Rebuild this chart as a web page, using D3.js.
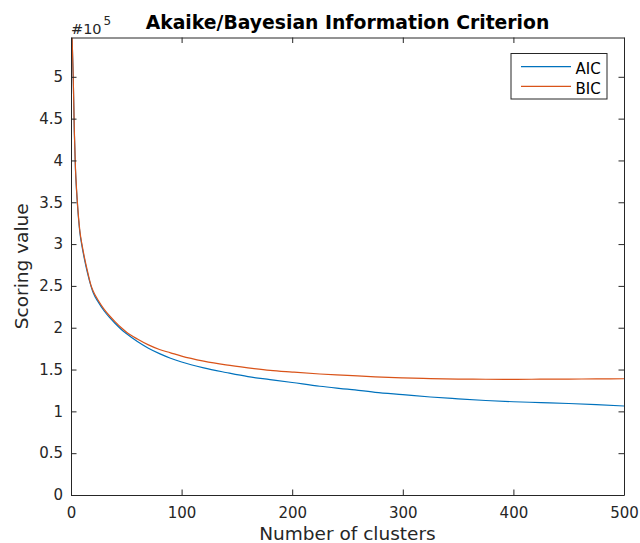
<!DOCTYPE html>
<html>
<head>
<meta charset="utf-8">
<script src="https://cdn.jsdelivr.net/npm/d3@7"></script>
<style>
  html, body { margin: 0; padding: 0; background: #fff; }
  svg { display: block; font-family: "DejaVu Sans", sans-serif; }
</style>
</head>
<body>
<svg id="chart" width="640" height="543"></svg>
<script>
// Number of clusters at which the scores were sampled
const clusters = [1, 2, 3, 4, 5, 6, 8, 10, 12, 15, 18, 20, 25, 30, 35, 40, 45, 50, 60, 70, 80, 90, 100,
  120, 140, 160, 180, 200, 225, 250, 275, 300, 325, 350, 375, 400, 425, 450, 475, 500];
// Scores in units of 1e5
const aic = [5.46, 5.0, 4.34, 3.9, 3.64, 3.44, 3.14, 2.97, 2.83, 2.65, 2.5, 2.42, 2.3, 2.2, 2.12, 2.05, 1.985, 1.93, 1.835, 1.755, 1.69, 1.635, 1.59,
  1.52, 1.465, 1.415, 1.38, 1.345, 1.3, 1.265, 1.228, 1.2, 1.172, 1.15, 1.13, 1.115, 1.105, 1.094, 1.08, 1.064];
const bic = [5.47, 5.01, 4.36, 3.92, 3.66, 3.46, 3.16, 2.99, 2.85, 2.67, 2.51, 2.44, 2.32, 2.22, 2.14, 2.07, 2.005, 1.95, 1.865, 1.795, 1.74, 1.7, 1.66,
  1.6, 1.555, 1.52, 1.49, 1.47, 1.447, 1.43, 1.412, 1.4, 1.392, 1.386, 1.384, 1.382, 1.385, 1.386, 1.388, 1.39];
const xTicks = [0, 100, 200, 300, 400, 500];
const yTicks = [0, 0.5, 1, 1.5, 2, 2.5, 3, 3.5, 4, 4.5, 5];
const seriesNames = ["AIC", "BIC"];
const seriesColors = ["#0072BD", "#D95319"];

const ink = "#262626";
const svg = d3.select("#chart");
const m = { left: 71, right: 624, top: 37.5, bottom: 495 };

const x = d3.scaleLinear().domain([0, 500]).range([m.left, m.right]);
const y = d3.scaleLinear().domain([0, d3.max(bic)]).range([m.bottom, m.top]);

// Curves
const line = d3.line().x(d => x(d[0])).y(d => y(d[1])).curve(d3.curveMonotoneX);
svg.append("clipPath").attr("id", "plotclip").append("rect")
  .attr("x", m.left).attr("y", m.top).attr("width", m.right - m.left).attr("height", m.bottom - m.top);
[aic, bic].forEach((vals, i) => {
  svg.append("path")
    .datum(clusters.map((c, j) => [c, vals[j]]))
    .attr("clip-path", "url(#plotclip)")
    .attr("fill", "none")
    .attr("stroke", seriesColors[i])
    .attr("stroke-width", 1.2)
    .attr("d", line);
});

// Axes with inward ticks on all four sides
const tickLen = 5.5;
const tickFont = 15;
const bottomAxis = d3.axisBottom(x).tickValues(xTicks).tickSizeInner(-tickLen).tickSizeOuter(0).tickPadding(12.3).tickFormat(d3.format("d"));
const topAxis = d3.axisTop(x).tickValues(xTicks).tickSizeInner(-tickLen).tickSizeOuter(0).tickFormat("");
const leftAxis = d3.axisLeft(y).tickValues(yTicks).tickSizeInner(-tickLen).tickSizeOuter(0).tickPadding(8).tickFormat(d => d3.format("")(d));
const rightAxis = d3.axisRight(y).tickValues(yTicks).tickSizeInner(-tickLen).tickSizeOuter(0).tickFormat("");

function styleAxis(g) {
  g.selectAll("path").attr("stroke", ink).attr("stroke-width", 1);
  g.selectAll("line").attr("stroke", ink).attr("stroke-width", 1);
  g.selectAll("text").attr("fill", ink).attr("font-size", tickFont).attr("font-family", "DejaVu Sans, sans-serif");
}
svg.append("g").attr("transform", `translate(0,${m.bottom})`).call(bottomAxis).call(styleAxis);
svg.append("g").attr("transform", `translate(0,${m.top})`).call(topAxis).call(styleAxis);
svg.append("g").attr("transform", `translate(${m.left},0)`).call(leftAxis).call(styleAxis);
svg.append("g").attr("transform", `translate(${m.right},0)`).call(rightAxis).call(styleAxis);

// Exponent marker
const expo = svg.append("text").attr("x", 71).attr("y", 33.5).attr("fill", ink).attr("font-size", 14.5);
expo.append("tspan").text("#10");
expo.append("tspan").attr("dx", 2).attr("dy", -8.5).attr("font-size", 12).text("5");

// Title and axis labels
svg.append("text").attr("x", (m.left + m.right) / 2).attr("y", 29).attr("text-anchor", "middle")
  .attr("font-weight", "bold").attr("font-size", 18.8).attr("fill", "#000")
  .text("Akaike/Bayesian Information Criterion");
svg.append("text").attr("x", (m.left + m.right) / 2).attr("y", 540).attr("text-anchor", "middle")
  .attr("font-size", 18.5).attr("fill", ink).text("Number of clusters");
svg.append("text").attr("transform", `translate(28,${(m.top + m.bottom) / 2}) rotate(-90)`)
  .attr("text-anchor", "middle").attr("font-size", 18.5).attr("fill", ink).text("Scoring value");

// Legend
const lg = svg.append("g").attr("transform", "translate(511,53.5)");
lg.append("rect").attr("width", 96).attr("height", 45.5).attr("fill", "#fff").attr("stroke", ink).attr("stroke-width", 1);
seriesNames.forEach((name, i) => {
  const yy = 13.2 + i * 19.6;
  lg.append("line").attr("x1", 10).attr("x2", 60).attr("y1", yy).attr("y2", yy)
    .attr("stroke", seriesColors[i]).attr("stroke-width", 1.2);
  lg.append("text").attr("x", 64.5).attr("y", yy + 7.3).attr("font-size", 15).attr("fill", "#000").text(name);
});
</script>
</body>
</html>
